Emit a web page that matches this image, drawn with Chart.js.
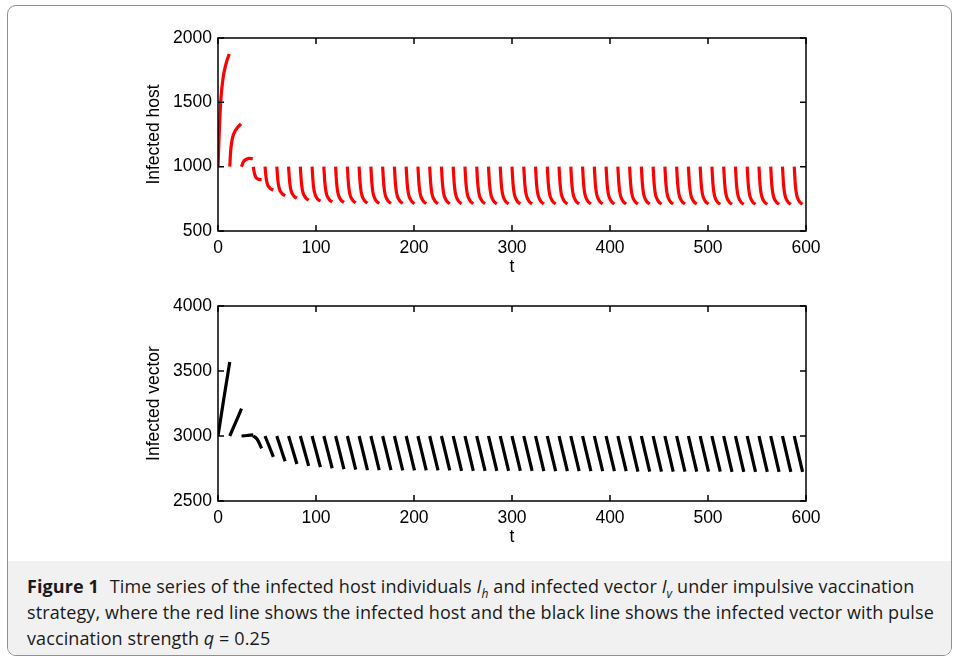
<!DOCTYPE html>
<html lang="en">
<head>
<meta charset="UTF-8">
<title>Figure 1</title>
<script src="https://cdn.jsdelivr.net/npm/chart.js"></script>
<style>
  body { margin: 0; width: 956px; height: 661px; overflow: hidden; position: relative; background: #fff; }
  .frame { position: absolute; left: 7px; top: 5px; width: 943px; height: 649px; border: 1px solid #8f8f8f; border-radius: 9px; overflow: hidden; }
  .caption { position: absolute; left: 0; right: 0; top: 555px; bottom: 0; background: #f1f1f1;
    font-family: 'Open Sans', sans-serif; font-size: 18px; letter-spacing: 0.1px; line-height: 26px; color: #1a1a1a; padding: 12px 0 0 19px; white-space: nowrap; }
  .caption b { font-weight: 700; margin-right: 6px; }
  .caption sub { font-size: 12px; line-height: 0; }
  .plot { position: absolute; left: 0; width: 956px; height: 290px; }
</style>
</head>
<body>
  <div class="frame">
    <div class="caption">
      <b>Figure 1</b> Time series of the infected host individuals <i>I<sub>h</sub></i> and infected vector <i>I<sub>v</sub></i> under impulsive vaccination<br>
      strategy, where the red line shows the infected host and the black line shows the infected vector with pulse<br>
      vaccination strength <i>q</i> = 0.25
    </div>
  </div>
  <div class="plot" style="top:0"><canvas id="hostChart"></canvas></div>
  <div class="plot" style="top:270px"><canvas id="vectorChart"></canvas></div>

<script>
  // pulse instants (period ~12)
  const pulseTimes = [0, 12, 24, 36, 48, 60, 72, 84, 96, 108, 120, 132, 144, 156, 168, 180, 192, 204, 216, 228,
    240, 252, 264, 276, 288, 300, 312, 324, 336, 348, 360, 372, 384, 396, 408, 420, 432, 444, 456, 468,
    480, 492, 504, 516, 528, 540, 552, 564, 576, 588];

  // time offsets inside one pulse period
  const riseOffsets = [0, 1, 2, 3, 5, 8, 11.5];
  const decayOffsets = [0, 1, 2, 3, 4.5, 6, 8.5];
  const vecRiseOffsets = [0, 6, 12];
  const vecDecayOffsets = [0, 4, 8.5];

  // infected host, one row per period
  const hostCycles = [
    [1000, 1210, 1400, 1530, 1680, 1795, 1875],
    [1000, 1130, 1190, 1230, 1270, 1305, 1332],
    [1000, 1022, 1038, 1048, 1058, 1064, 1062],
    [1000, 955, 928, 914, 905, 901, 899],
    [1000, 920, 876, 854, 838, 827, 818],
    [1000, 901, 847, 820, 800, 786, 775],
    [1000, 892, 833, 804, 782, 767, 755],
    [1000, 886, 823, 792, 769, 753, 740],
    [1000, 882, 818, 786, 761, 745, 732],
    [1000, 879, 814, 781, 756, 740, 726],
    [1000, 878, 811, 778, 753, 736, 722],
    [1000, 876, 809, 775, 750, 733, 719],
    [1000, 875, 808, 774, 748, 731, 717],
    [1000, 875, 806, 772, 746, 729, 715],
    [1000, 875, 806, 772, 746, 729, 715],
    [1000, 875, 806, 772, 746, 729, 715],
    [1000, 874, 805, 770, 745, 727, 713],
    [1000, 874, 805, 770, 745, 727, 713],
    [1000, 874, 805, 770, 745, 727, 713],
    [1000, 874, 805, 770, 745, 727, 713],
    [1000, 874, 805, 770, 745, 727, 713],
    [1000, 874, 805, 770, 745, 727, 713],
    [1000, 874, 805, 770, 745, 727, 713],
    [1000, 873, 803, 769, 743, 725, 711],
    [1000, 873, 803, 769, 743, 725, 711],
    [1000, 873, 803, 769, 743, 725, 711],
    [1000, 873, 803, 769, 743, 725, 711],
    [1000, 873, 803, 769, 743, 725, 711],
    [1000, 873, 803, 769, 743, 725, 711],
    [1000, 873, 803, 769, 743, 725, 711],
    [1000, 873, 803, 769, 743, 725, 711],
    [1000, 873, 803, 769, 743, 725, 711],
    [1000, 873, 803, 769, 743, 725, 711],
    [1000, 872, 802, 767, 741, 724, 709],
    [1000, 872, 802, 767, 741, 724, 709],
    [1000, 872, 802, 767, 741, 724, 709],
    [1000, 872, 802, 767, 741, 724, 709],
    [1000, 872, 802, 767, 741, 724, 709],
    [1000, 872, 802, 767, 741, 724, 709],
    [1000, 872, 802, 767, 741, 724, 709],
    [1000, 872, 802, 767, 741, 724, 709],
    [1000, 872, 802, 767, 741, 724, 709],
    [1000, 871, 801, 766, 739, 722, 707],
    [1000, 871, 801, 766, 739, 722, 707],
    [1000, 871, 801, 766, 739, 722, 707],
    [1000, 871, 801, 766, 739, 722, 707],
    [1000, 871, 801, 766, 739, 722, 707],
    [1000, 871, 801, 766, 739, 722, 707],
    [1000, 871, 801, 766, 739, 722, 707],
    [1000, 871, 801, 766, 739, 722, 707]
  ];

  // infected vector, one row per period
  const vectorCycles = [
    [3000, 3290, 3570],
    [3000, 3105, 3210],
    [3000, 3004, 3008],
    [3000, 2975, 2905],
    [3000, 2925, 2840],
    [3000, 2908, 2805],
    [3000, 2899, 2785],
    [3000, 2892, 2770],
    [3000, 2887, 2760],
    [3000, 2884, 2752],
    [3000, 2881, 2746],
    [3000, 2879, 2742],
    [3000, 2877, 2738],
    [3000, 2877, 2738],
    [3000, 2877, 2738],
    [3000, 2876, 2735],
    [3000, 2876, 2735],
    [3000, 2876, 2735],
    [3000, 2876, 2735],
    [3000, 2876, 2735],
    [3000, 2874, 2732],
    [3000, 2874, 2732],
    [3000, 2874, 2732],
    [3000, 2874, 2732],
    [3000, 2874, 2732],
    [3000, 2874, 2732],
    [3000, 2874, 2732],
    [3000, 2873, 2729],
    [3000, 2873, 2729],
    [3000, 2873, 2729],
    [3000, 2873, 2729],
    [3000, 2873, 2729],
    [3000, 2873, 2729],
    [3000, 2873, 2729],
    [3000, 2873, 2729],
    [3000, 2871, 2726],
    [3000, 2871, 2726],
    [3000, 2871, 2726],
    [3000, 2871, 2726],
    [3000, 2871, 2726],
    [3000, 2871, 2726],
    [3000, 2871, 2726],
    [3000, 2871, 2726],
    [3000, 2870, 2724],
    [3000, 2870, 2724],
    [3000, 2870, 2724],
    [3000, 2870, 2724],
    [3000, 2870, 2724],
    [3000, 2870, 2724],
    [3000, 2870, 2724]
  ];

  const xTicks = [0, 100, 200, 300, 400, 500, 600];
  const hostTicks = [500, 1000, 1500, 2000];
  const vectorTicks = [2500, 3000, 3500, 4000];

  // one line per period, broken with a null point so the jumps are not drawn
  function buildPoints(cycles, earlyOffs, lateOffs, earlyCount) {
    const pts = [];
    cycles.forEach((row, i) => {
      const offs = i < earlyCount ? earlyOffs : lateOffs;
      row.forEach((v, j) => pts.push({ x: pulseTimes[i] + offs[j], y: v }));
      pts.push({ x: pulseTimes[i] + offs[offs.length - 1], y: null });
    });
    return pts;
  }

  // matlab style box with inward ticks
  const boxTicks = {
    id: 'boxTicks',
    afterDatasetsDraw(chart) {
      const { ctx, chartArea: a, scales: { x, y } } = chart;
      ctx.save();
      ctx.strokeStyle = '#000';
      ctx.lineWidth = 1.5;
      ctx.strokeRect(a.left, a.top, a.right - a.left, a.bottom - a.top);
      ctx.beginPath();
      x.ticks.forEach(t => {
        const px = x.getPixelForValue(t.value);
        ctx.moveTo(px, a.bottom); ctx.lineTo(px, a.bottom - 6);
        ctx.moveTo(px, a.top); ctx.lineTo(px, a.top + 6);
      });
      y.ticks.forEach(t => {
        const py = y.getPixelForValue(t.value);
        ctx.moveTo(a.left, py); ctx.lineTo(a.left + 6, py);
        ctx.moveTo(a.right, py); ctx.lineTo(a.right - 6, py);
      });
      ctx.stroke();
      ctx.restore();
    }
  };

  const tickFont = { family: 'Liberation Sans', size: 17.5 };
  const plain = v => String(v);

  function makeChart(id, points, color, yTicks, yTitle, topPad) {
    return new Chart(document.getElementById(id), {
      type: 'line',
      data: {
        datasets: [{
          data: points,
          borderColor: color,
          borderWidth: 3.2,
          pointRadius: 0,
          cubicInterpolationMode: 'monotone',
          spanGaps: false,
          fill: false
        }]
      },
      options: {
        responsive: true,
        maintainAspectRatio: false,
        animation: false,
        devicePixelRatio: 1,
        layout: { padding: { top: topPad, right: 150, bottom: 0, left: 0 } },
        plugins: { legend: { display: false }, tooltip: { enabled: false } },
        scales: {
          x: {
            type: 'linear',
            min: xTicks[0],
            max: xTicks[xTicks.length - 1],
            afterBuildTicks: s => { s.ticks = xTicks.map(v => ({ value: v })); },
            afterFit: s => { s.height = 59; },
            grid: { display: false, drawTicks: false },
            border: { display: false },
            ticks: { font: tickFont, color: '#000', padding: 7, maxRotation: 0, callback: plain },
            title: { display: true, text: 't', font: tickFont, color: '#000', padding: { top: 0, bottom: 12 } }
          },
          y: {
            type: 'linear',
            min: yTicks[0],
            max: yTicks[yTicks.length - 1],
            afterBuildTicks: s => { s.ticks = yTicks.map(v => ({ value: v })); },
            afterFit: s => { s.width = 218; },
            grid: { display: false, drawTicks: false },
            border: { display: false },
            ticks: { font: tickFont, color: '#000', padding: 6, callback: plain },
            title: { display: true, text: yTitle, font: tickFont, color: '#000', padding: { top: 144, bottom: 0 } }
          }
        }
      },
      plugins: [boxTicks]
    });
  }

  makeChart('hostChart', buildPoints(hostCycles, riseOffsets, decayOffsets, 3), '#ff0000', hostTicks, 'Infected host', 38);
  makeChart('vectorChart', buildPoints(vectorCycles, vecRiseOffsets, vecDecayOffsets, 3), '#000000', vectorTicks, 'Infected vector', 36);
</script>
</body>
</html>
